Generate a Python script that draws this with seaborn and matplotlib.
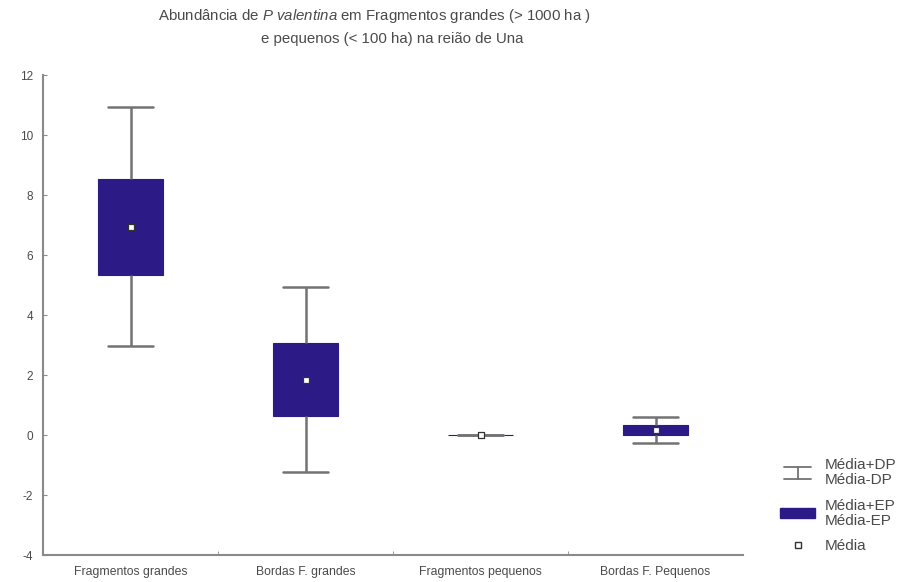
import numpy as np
import pandas as pd
import matplotlib
matplotlib.use("Agg")
import matplotlib.pyplot as plt
from matplotlib.lines import Line2D
from matplotlib.patches import Patch
from matplotlib.legend_handler import HandlerBase
import seaborn as sns

# Abundance summary per fragment class: mean, standard error, standard deviation
categories = ["Fragmentos grandes", "Bordas F. grandes", "Fragmentos pequenos", "Bordas F. Pequenos"]
means = [6.95, 1.85, 0.0, 0.17]
std_err = [1.60, 1.22, 0.0, 0.16]
std_dev = [3.97, 3.07, 0.0, 0.42]
y_ticks = [-4, -2, 0, 2, 4, 6, 8, 10, 12]

# Five-point sets whose quartiles are mean±SE and whose extremes are mean±SD,
# so the box spans the standard error and the whiskers span the standard deviation.
rows = []
for cat, m, se, sd in zip(categories, means, std_err, std_dev):
    for v in (m - sd, m - se, m, m + se, m + sd):
        rows.append({"grupo": cat, "valor": v})
df = pd.DataFrame(rows)
df_mean = pd.DataFrame({"grupo": categories, "valor": means})

sns.set_style("white")
plt.rcParams["font.family"] = ["Liberation Sans", "DejaVu Sans"]
plt.rcParams["mathtext.fontset"] = "custom"
plt.rcParams["mathtext.it"] = "Liberation Sans:italic"
plt.rcParams["mathtext.rm"] = "Liberation Sans"

box_color = "#2c1a86"
whisk_color = "#737373"
text_color = "#4a4a4a"

fig = plt.figure(figsize=(9.21, 5.82), dpi=100)
ax = fig.add_axes([43 / 921, 1 - 555 / 582, 700 / 921, 480 / 582])

sns.boxplot(
    data=df, x="grupo", y="valor", order=categories, ax=ax,
    whis=(0, 100), width=0.37, color=box_color, saturation=1,
    showfliers=False, capwidths=0.26,
    boxprops=dict(facecolor=box_color, edgecolor=box_color, linewidth=0.8),
    whiskerprops=dict(color=whisk_color, linewidth=1.8),
    capprops=dict(color=whisk_color, linewidth=1.8),
    medianprops=dict(linewidth=0, alpha=0),
)

sns.scatterplot(
    data=df_mean, x="grupo", y="valor", ax=ax, marker="s", s=24,
    color="white", edgecolor="#333333", linewidth=0.9, zorder=5, legend=False,
)

ax.set_ylim(-4, 12)
ax.set_xlim(-0.5, 3.5)
ax.set_yticks(y_ticks)
ax.set_yticklabels([str(t) for t in y_ticks])
ax.set_xticks(range(len(categories)))
ax.set_xticklabels(categories)
ax.set_xlabel("")
ax.set_ylabel("")

for side in ("top", "right"):
    ax.spines[side].set_visible(False)
for side in ("left", "bottom"):
    ax.spines[side].set_color("#8a8a8a")
    ax.spines[side].set_linewidth(1.5)

ax.tick_params(axis="y", direction="in", length=3, color="#8a8a8a",
               labelsize=8.5, labelcolor=text_color, pad=7, left=True)
ax.tick_params(axis="x", length=0, labelsize=8.8, labelcolor=text_color, pad=8)
ax.set_xticks([0.5, 1.5, 2.5], minor=True)
ax.tick_params(axis="x", which="minor", direction="in", length=3, color="#8a8a8a", bottom=True)

fig.text(374 / 921, 1 - 16 / 582,
         "Abundância de $P$ $valentina$ em Fragmentos grandes (> 1000 ha )",
         ha="center", va="center", fontsize=10.8, color=text_color)
fig.text(392 / 921, 1 - 39 / 582,
         "e pequenos (< 100 ha) na reião de Una",
         ha="center", va="center", fontsize=10.8, color=text_color)


class WhiskerHandler(HandlerBase):
    """Legend key drawn as a whisker: stem with a cap at each end."""

    def create_artists(self, legend, orig_handle, xdescent, ydescent,
                       width, height, fontsize, trans):
        cx = width / 2 - xdescent
        y0, y1 = -ydescent - 0.1 * height, -ydescent + 1.1 * height
        half = 0.38 * width
        kw = dict(color=whisk_color, linewidth=1.3, transform=trans)
        return [
            Line2D([cx, cx], [y0, y1], **kw),
            Line2D([cx - half, cx + half], [y0, y0], **kw),
            Line2D([cx - half, cx + half], [y1, y1], **kw),
        ]


whisker_key = Line2D([], [])
handles = [
    whisker_key,
    Patch(facecolor=box_color, edgecolor=box_color),
    Line2D([], [], marker="s", linestyle="none", markersize=5,
           markerfacecolor="white", markeredgecolor="#333333"),
]
labels = ["Média+DP\nMédia-DP", "Média+EP\nMédia-EP", "Média"]
leg = fig.legend(handles, labels, loc="upper left", bbox_to_anchor=(774 / 921, 1 - 452 / 582),
                 frameon=False, fontsize=11, labelcolor=text_color, handlelength=2.3,
                 handleheight=0.6, handletextpad=0.6, labelspacing=0.75, borderaxespad=0,
                 handler_map={whisker_key: WhiskerHandler()})
for t in leg.get_texts():
    t.set_linespacing(1.1)

fig.savefig("out.png", dpi=100)
